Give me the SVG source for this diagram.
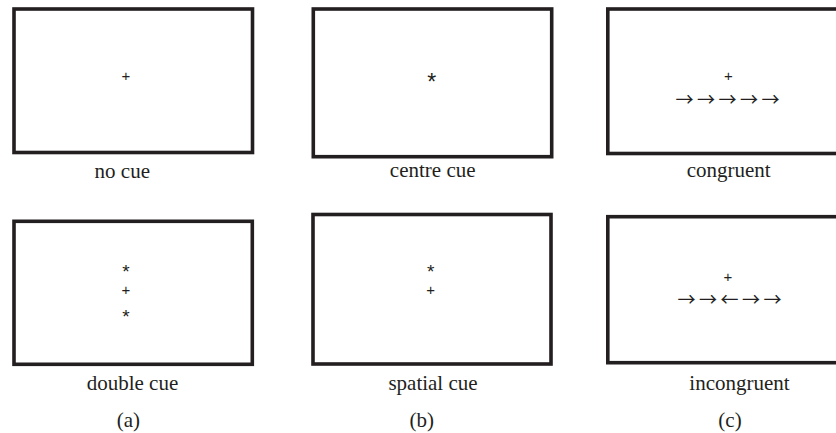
<svg xmlns="http://www.w3.org/2000/svg" width="836" height="433" viewBox="0 0 836 433">
<style>
.box{fill:#fff;stroke:#231f20;stroke-width:3.6}
.lbl{font-family:"Liberation Serif","Times New Roman",serif;font-size:21px;fill:#231f20;text-anchor:middle}
.sym{font-family:"Liberation Sans",Arial,sans-serif;font-size:15px;fill:#231f20;text-anchor:middle}
.ast{font-family:"Liberation Sans",Arial,sans-serif;font-size:19px;fill:#231f20;text-anchor:middle}
.arr{font-family:"Noto Sans CJK JP","DejaVu Sans",sans-serif;font-size:18px;letter-spacing:3.5px;fill:#231f20}
</style>
<rect width="836" height="433" fill="#fff"/>
<g id="no-cue">
<rect class="box" x="14" y="9" width="238.5" height="143.5"/>
<text class="sym" x="126" y="81.3">+</text>
<text class="lbl" x="122.3" y="177.5">no cue</text>
</g>
<g id="centre-cue">
<rect class="box" x="313.3" y="9" width="238.4" height="147.7"/>
<text class="ast" x="431.7" y="90" style="font-size:23px">*</text>
<text class="lbl" x="432.7" y="176.7">centre cue</text>
</g>
<g id="congruent">
<rect class="box" x="607.8" y="9" width="240" height="144.5"/>
<text class="sym" x="728.3" y="81.3">+</text>
<text class="arr" x="675.5" y="105.8">→→→→→</text>
<text class="lbl" x="728.7" y="177">congruent</text>
</g>
<g id="double-cue">
<rect class="box" x="14" y="221.3" width="238.3" height="143"/>
<text class="ast" x="126" y="278.2">*</text>
<text class="sym" x="126" y="294.6">+</text>
<text class="ast" x="126" y="322.5">*</text>
<text class="lbl" x="132.5" y="390">double cue</text>
</g>
<g id="spatial-cue">
<rect class="box" x="313" y="214.5" width="238" height="149.5"/>
<text class="ast" x="430.7" y="278.2">*</text>
<text class="sym" x="430.7" y="294.6">+</text>
<text class="lbl" x="433" y="390">spatial cue</text>
</g>
<g id="incongruent">
<rect class="box" x="607.8" y="216.7" width="240" height="146"/>
<text class="sym" x="728" y="282">+</text>
<text class="arr" x="677.5" y="305.8">→→←→→</text>
<text class="lbl" x="739.5" y="390">incongruent</text>
</g>
<g id="captions">
<text class="lbl" x="128.3" y="426.5">(a)</text>
<text class="lbl" x="421.7" y="426.5">(b)</text>
<text class="lbl" x="730" y="426.5">(c)</text>
</g>
<g id="connectors"/>
</svg>
